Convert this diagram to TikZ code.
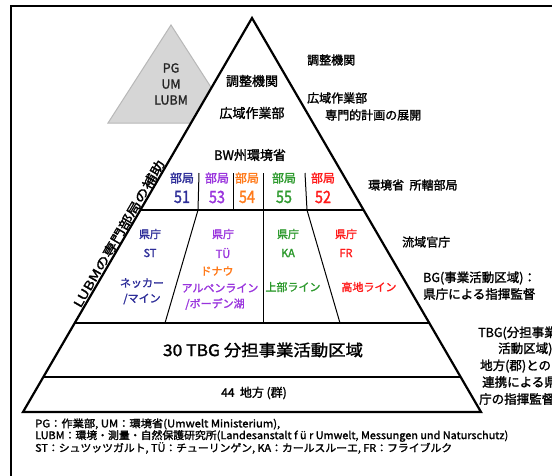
\documentclass[tikz,border=0pt]{standalone}
\usepackage{fontspec}
\setmainfont{Noto Sans CJK JP}[FakeBold=1.6]
\usepackage{graphicx}
\usetikzlibrary{calc}
\definecolor{cblue}{HTML}{2E2E99}
\definecolor{cpurple}{HTML}{9933DD}
\definecolor{corange}{HTML}{FF7A1A}
\definecolor{cgreen}{HTML}{2E9A2E}
\definecolor{cred}{HTML}{FF1A1A}
\newcommand{\fs}[1]{\fontsize{#1}{#1}\selectfont}
\newcommand{\nar}[1]{\scalebox{0.85}[1]{#1}}
\begin{document}
\begin{tikzpicture}[x=1pt,y=-1pt,
  lbl/.style={inner sep=0pt, font=\fs{11}},
  rlbl/.style={inner sep=0pt, anchor=west, font=\fs{12}},
  rlblb/.style={inner sep=0pt, anchor=west, font=\fs{12.5}},
  big/.style={inner sep=0pt, font=\fs{13}},
  bu/.style={inner sep=0pt, font=\fs{12}},
  num/.style={inner sep=0pt, font=\fs{17}},
  thick line/.style={line width=2.2pt},
  thin line/.style={line width=1pt},
  foot/.style={inner sep=0pt, anchor=west, font=\fs{10.5}}]
\useasboundingbox (0,0) rectangle (552,475);
\fill[white] (0,0) rectangle (552,475);
% frame
\draw[line width=1.5pt] (11,490) -- (11,6) -- (570,6);
% gray triangle
\coordinate (GA) at (171,25);
\coordinate (GL) at (108,123);
\coordinate (GR) at (234,123);
\draw[fill=black!16, draw=black!28, line width=1pt] (GA) -- (GL) -- (GR) -- cycle;
\node[inner sep=0pt, align=center, text=black!85, font=\fontsize{12.5}{16}\selectfont] (pg) at (171,84) {PG\\UM\\LUBM};
% main triangle
\coordinate (A) at (252,18);
\coordinate (L) at (23,412);
\coordinate (R) at (481,412);
\draw[fill=white, thick line, line join=miter] (A) -- (L) -- (R) -- cycle;
\coordinate (l1) at ($(A)!{192/394}!(L)$);
\coordinate (r1) at ($(A)!{192/394}!(R)$);
\coordinate (l2) at ($(A)!{305/394}!(L)$);
\coordinate (r2) at ($(A)!{305/394}!(R)$);
\coordinate (l3) at ($(A)!{359/394}!(L)$);
\coordinate (r3) at ($(A)!{359/394}!(R)$);
\draw[thick line] (l1) -- (r1);
\draw[thick line] (l2) -- (r2);
\draw[thick line] (l3) -- (r3);
% dividers
\draw[thin line] (199,173) -- (198,210) -- (165,323);
\draw[thin line] (233,173) -- (233,210);
\draw[thin line] (263,173) -- (263,323);
\draw[thin line] (305,173) -- (307,210) -- (340,323);
% texts inside top
\node[big] (t1) at (252,81) {調整機関};
\node[big] (t2) at (252,113) {広域作業部};
\node[big] (t3) at (250,155) {BW州環境省};
% bureaus
\node[bu, text=cblue] (b1) at (182,178) {部局};
\node[num, text=cblue] (n1) at (182,197) {\nar{51}};
\node[bu, text=cpurple] (b2) at (217,178) {部局};
\node[num, text=cpurple] (n2) at (217,197) {\nar{53}};
\node[bu, text=corange] (b3) at (247,178) {部局};
\node[num, text=corange] (n3) at (247,197) {\nar{54}};
\node[bu, text=cgreen] (b4) at (284,178) {部局};
\node[num, text=cgreen] (n4) at (284,197) {\nar{55}};
\node[bu, text=cred] (b5) at (323,178) {部局};
\node[num, text=cred] (n5) at (323,197) {\nar{52}};
% prefectures
\node[lbl, text=cblue] (k1) at (150,234) {県庁};
\node[lbl, text=cblue] (s1) at (150,253) {ST};
\node[lbl, text=cblue] (w1a) at (142,283) {ネッカー};
\node[lbl, text=cblue] (w1b) at (142,299) {/マイン};
\node[lbl, text=cpurple] (k2) at (223,234) {県庁};
\node[lbl, text=cpurple] (s2) at (223,253) {TÜ};
\node[lbl, text=corange] (w2a) at (217,271) {ドナウ};
\node[lbl, text=cpurple] (w2b) at (220,288) {アルペンライン};
\node[lbl, text=cpurple] (w2c) at (215,304) {/ボーデン湖};
\node[lbl, text=cgreen] (k3) at (288,234) {県庁};
\node[lbl, text=cgreen] (s3) at (288,253) {KA};
\node[lbl, text=cgreen] (w3) at (293,287) {上部ライン};
\node[lbl, text=cred] (k4) at (346,234) {県庁};
\node[lbl, text=cred] (s4) at (346,253) {FR};
\node[lbl, text=cred] (w4) at (369,287) {高地ライン};
% lower rows
\node[inner sep=0pt, font=\fs{16}] (tbg) at (263,350) {\resizebox{200pt}{\height}{30 TBG 分担事業活動区域}};
\node[inner sep=0pt, font=\fs{12}] (loc) at (254,393) {44\ \ 地方 (群)};
% rotated label
\path (L) -- (A) node[pos=0.444, sloped, above, inner sep=1pt, font=\fs{12}] (lubm) {\resizebox{168pt}{\height}{LUBMの専門部局の補助}};
% right labels
\node[rlbl] (r1t) at (307,60) {調整機関};
\node[rlbl] (r2t) at (307,98) {広域作業部};
\node[rlbl] (r2u) at (325,115) {専門的計画の展開};
\node[rlbl] (r3t) at (368,185) {環境省\ \ 所轄部局};
\node[rlbl] (r4t) at (402,242) {流域官庁};
\node[rlblb] (r5a) at (423,278) {BG(事業活動区域)：};
\node[rlblb] (r5b) at (423,294) {県庁による指揮監督};
\node[rlblb] (r6a) at (478,333) {TBG(分担事業};
\node[rlblb] (r6b) at (498,349) {活動区域)：};
\node[rlblb] (r6c) at (480,366) {地方(郡)との};
\node[rlblb] (r6d) at (482,382) {連携による県};
\node[rlblb] (r6e) at (479,399) {庁の指揮監督};
% footnotes
\node[foot] (f1) at (35,424) {\resizebox{245pt}{\height}{PG：作業部, UM：環境省(Umwelt Ministerium),}};
\node[foot] (f2) at (35,436) {\resizebox{473pt}{\height}{LUBM：環境・測量・自然保護研究所(Landesanstalt f ü r Umwelt, Messungen und Naturschutz)}};
\node[foot] (f3) at (35,448) {\resizebox{417pt}{\height}{ST：シュツッツガルト, TÜ：チューリンゲン, KA：カールスルーエ, FR：フライブルク}};
\end{tikzpicture}
\end{document}
